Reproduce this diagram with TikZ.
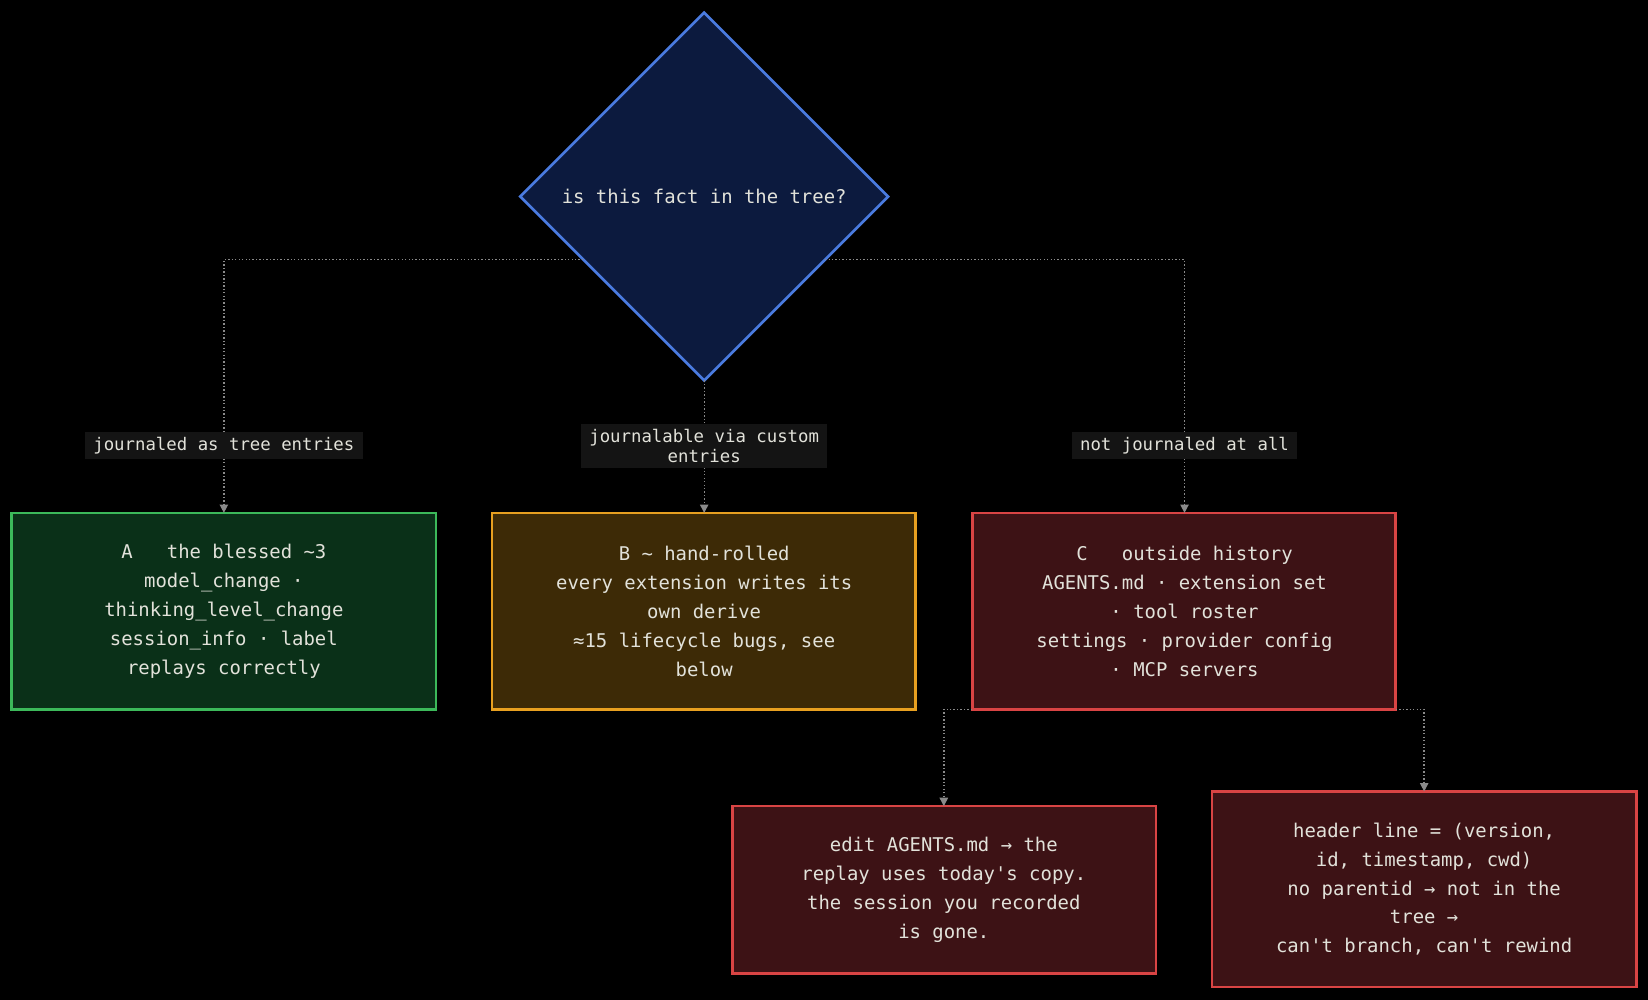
\documentclass[tikz,border=0pt]{standalone}
\usepackage{fontspec}
\setmonofont{DejaVu Sans Mono}
\usetikzlibrary{shapes.geometric,arrows.meta}
\definecolor{txt}{HTML}{E2E2DA}
\definecolor{wiregray}{HTML}{8A8A8A}
\definecolor{qfill}{HTML}{0C1A3E}
\definecolor{qline}{HTML}{4A7BE0}
\definecolor{gfill}{HTML}{0A3018}
\definecolor{gline}{HTML}{3CB95A}
\definecolor{ofill}{HTML}{3D2A06}
\definecolor{oline}{HTML}{E8A020}
\definecolor{rfill}{HTML}{3D1215}
\definecolor{rline}{HTML}{D94444}
\definecolor{tagfill}{HTML}{141414}
\tikzset{
  box/.style={draw, line width=2.5pt, text=txt, align=center, inner sep=0pt,
    font=\ttfamily\fontsize{18}{27.5}\selectfont},
  wire/.style={draw=wiregray, dotted, line width=1.3pt, -{Triangle[length=8pt,width=8pt,fill=wiregray]}},
  tag/.style={fill=tagfill, text=txt, align=center, inner xsep=8pt, inner ysep=5pt,
    font=\ttfamily\fontsize{16.5}{19}\selectfont}
}
\begin{document}
\begin{tikzpicture}[x=1pt,y=-1pt]
\fill[black] (0,0) rectangle (1568,951);
\useasboundingbox (0,0) rectangle (1568,951);

% question
\draw[qline, fill=qfill, line width=2.5pt] (670,12) -- (845,187) -- (670,362) -- (495,187) -- cycle;
\node[text=txt, font=\ttfamily\fontsize{18}{22}\selectfont] (q) at (670,187) {is this fact in the tree?};
\coordinate (ql) at (555,247);
\coordinate (qr) at (785,247);
\coordinate (qb) at (670,362);

% outcomes
\draw[box, gline, fill=gfill] (11,488) rectangle (415,675);
\node[box, draw=none] (a) at (213,581.5) {A\ \ \ the blessed \textasciitilde3\\model\_change ·\\thinking\_level\_change\\session\_info · label\\replays correctly};
\coordinate (at) at (213,488);

\draw[box, oline, fill=ofill] (468,488) rectangle (871,675);
\node[box, draw=none] (b) at (670,581.5) {B \textasciitilde\ hand-rolled\\every extension writes its\\own derive\\≈15 lifecycle bugs, see\\below};
\coordinate (bt) at (670,488);

\draw[box, rline, fill=rfill] (925,488) rectangle (1328,675);
\node[box, draw=none] (c) at (1127,581.5) {C\ \ \ outside history\\AGENTS.md · extension set\\· tool roster\\settings · provider config\\· MCP servers};
\coordinate (ct) at (1127,488);
\coordinate (csw) at (925,675);
\coordinate (cse) at (1328,675);

\draw[box, rline, fill=rfill] (697,767) rectangle (1100,926);
\node[box, draw=none] (d) at (898,846.5) {edit AGENTS.md → the\\replay uses today's copy.\\the session you recorded\\is gone.};
\coordinate (dt) at (898,767);

\draw[box, rline, fill=rfill] (1153,753) rectangle (1557,939);
\node[box, draw=none] (e) at (1355,846) {header line = (version,\\id, timestamp, cwd)\\no parentid → not in the\\tree →\\can't branch, can't rewind};
\coordinate (et) at (1355,753);

% connectors
\draw[wire] (ql) -| (at);
\draw[wire] (qb) -- (bt);
\draw[wire] (qr) -| (ct);
\draw[wire] (csw) -| (dt);
\draw[wire] (cse) -| (et);

\node[tag] (la) at (213,424) {journaled as tree entries};
\node[tag] (lb) at (670,424) {journalable via custom\\entries};
\node[tag] (lc) at (1127,424) {not journaled at all};
\end{tikzpicture}
\end{document}
